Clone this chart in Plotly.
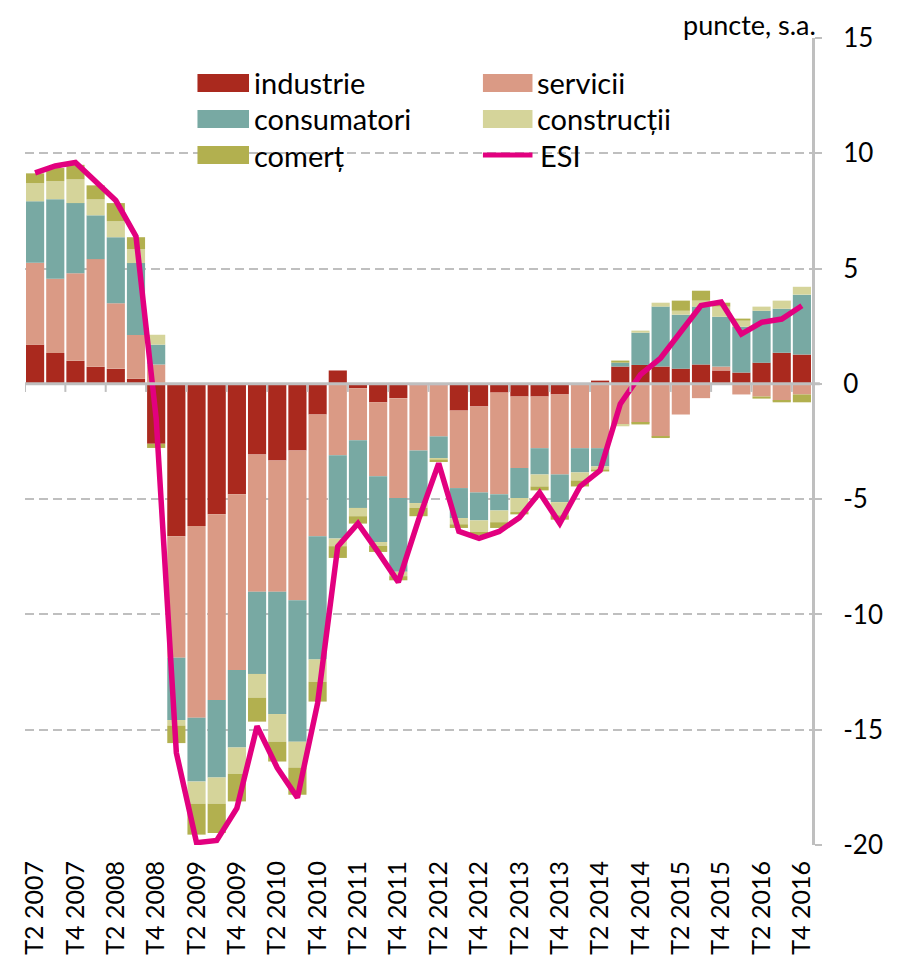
import plotly.graph_objects as go

quarters = [
    "T2 2007", "T3 2007", "T4 2007",
    "T1 2008", "T2 2008", "T3 2008", "T4 2008",
    "T1 2009", "T2 2009", "T3 2009", "T4 2009",
    "T1 2010", "T2 2010", "T3 2010", "T4 2010",
    "T1 2011", "T2 2011", "T3 2011", "T4 2011",
    "T1 2012", "T2 2012", "T3 2012", "T4 2012",
    "T1 2013", "T2 2013", "T3 2013", "T4 2013",
    "T1 2014", "T2 2014", "T3 2014", "T4 2014",
    "T1 2015", "T2 2015", "T3 2015", "T4 2015",
    "T1 2016", "T2 2016", "T3 2016", "T4 2016",
]

industrie = [1.70, 1.34, 1.00, 0.74, 0.65, 0.22, -2.60,
             -6.61, -6.16, -5.66, -4.79, -3.06, -3.32, -2.89, -1.33,
             0.58, -0.19, -0.80, -0.62, -0.07, -0.07, -1.16, -0.98,
             -0.38, -0.55, -0.55, -0.46, 0.00, 0.14, 0.75, 0.82,
             0.75, 0.66, 0.84, 0.58, 0.49, 0.92, 1.35, 1.27]
servicii = [3.55, 3.22, 3.80, 4.67, 2.85, 1.90, 0.84,
            -5.27, -8.32, -8.05, -7.62, -5.96, -5.70, -6.49, -5.28,
            -3.10, -2.26, -3.21, -4.33, -2.82, -2.21, -3.36, -3.73,
            -4.41, -3.10, -2.24, -3.47, -2.79, -2.79, -1.76, -1.68,
            -2.28, -1.33, -0.62, 0.17, -0.46, -0.55, -0.72, -0.46]
consumatori = [2.67, 3.45, 3.04, 1.90, 2.86, 3.12, 0.86,
               -2.70, -2.77, -3.36, -3.36, -3.56, -5.30, -6.14, -5.34,
               -3.61, -2.93, -2.85, -3.20, -2.28, -0.94, -1.30, -1.21,
               -0.70, -1.30, -1.14, -1.20, -1.05, -0.79, 0.17, 1.40,
               2.60, 2.34, 2.51, 2.16, 1.99, 2.25, 1.91, 2.60]
constructii = [0.78, 0.78, 1.03, 0.69, 0.69, 0.60, 0.43,
               -0.24, -0.96, -1.14, -1.14, -1.03, -1.20, -1.12, -0.97,
               -0.33, -0.36, -0.17, -0.19, -0.21, -0.07, -0.27, -0.50,
               -0.51, -0.61, -0.52, -0.57, -0.35, -0.13, -0.08, 0.09,
               0.17, 0.17, 0.26, 0.44, 0.26, 0.18, 0.35, 0.34]
comert = [0.43, 0.57, 0.63, 0.61, 0.79, 0.52, -0.18,
          -0.76, -1.34, -1.27, -1.20, -1.04, -0.86, -1.18, -0.86,
          -0.51, -0.32, -0.26, -0.18, -0.36, -0.10, -0.16, -0.15,
          -0.25, -0.10, -0.17, -0.19, -0.26, -0.09, 0.09, -0.08,
          -0.07, 0.44, 0.43, 0.17, 0.09, -0.09, -0.08, -0.34]
esi = [9.15, 9.45, 9.60, 8.80, 7.95, 6.40, -1.50,
       -16.00, -19.90, -19.80, -18.40, -14.85, -16.65, -17.95, -13.85,
       -7.05, -6.05, -7.30, -8.60, -5.90, -3.45, -6.40, -6.70,
       -6.40, -5.80, -4.72, -6.05, -4.45, -3.75, -0.87, 0.40,
       1.12, 2.23, 3.40, 3.55, 2.16, 2.67, 2.81, 3.39]

series_names = ["industrie", "servicii", "consumatori", "construcții", "comerț"]
series_values = [industrie, servicii, consumatori, constructii, comert]
series_colors = ["#AA291E", "#DA9A85", "#78A9A3", "#D5D49A", "#B2B04F"]
esi_color = "#E2007F"

label_quarters = quarters[0::2]
ytick_vals = [15, 10, 5, 0, -5, -10, -15, -20]
ytick_text = ["15", "10", "5", "0", "-5", "-10", "-15", "-20"]

FONT = "Lato"
W, H = 901, 973
PAGE_OFF = 8  # default body margin of the html page
PW, PH = 794, 807
ML, MT = 18 - PAGE_OFF, 38 - PAGE_OFF
MR, MB = W - ML - PW, H - MT - PH


def px_x(p):
    return (p - PAGE_OFF - ML) / PW


def px_y(p):
    return (MT + PH - (p - PAGE_OFF)) / PH


fig = go.Figure()
for name, vals, col in zip(series_names, series_values, series_colors):
    fig.add_trace(go.Bar(x=quarters, y=vals, name=name, marker=dict(color=col, line=dict(width=0)),
                         showlegend=False))
fig.add_trace(go.Scatter(x=quarters, y=esi, name="ESI", mode="lines",
                         line=dict(color=esi_color, width=5.5), showlegend=False))

shapes = []
shapes.append(dict(type="line", xref="paper", yref="y", x0=0, x1=1.01, y0=0, y1=0,
                   line=dict(color="#BFBFBF", width=3), layer="above"))
for i in range(0, len(quarters), 2):
    shapes.append(dict(type="line", xref="x", yref="y", x0=i - 0.5, x1=i - 0.5, y0=0, y1=-0.35,
                       line=dict(color="#BFBFBF", width=2), layer="above"))

annotations = []
legend_items = [
    ("industrie", "bar", series_colors[0], 192, 244, 83),
    ("servicii", "bar", series_colors[1], 480, 530, 83),
    ("consumatori", "bar", series_colors[2], 192, 244, 119),
    ("construcții", "bar", series_colors[3], 480, 530, 119),
    ("comerț", "bar", series_colors[4], 192, 244, 155),
    ("ESI", "line", esi_color, 477, 533, 155),
]
for text, kind, col, x0, x1, yc in legend_items:
    if kind == "bar":
        shapes.append(dict(type="rect", xref="paper", yref="paper",
                           x0=px_x(x0), x1=px_x(x1), y0=px_y(yc + 9), y1=px_y(yc - 9),
                           fillcolor=col, line=dict(width=0), layer="above"))
    else:
        shapes.append(dict(type="line", xref="paper", yref="paper",
                           x0=px_x(x0 + 3), x1=px_x(x1 - 3), y0=px_y(yc), y1=px_y(yc),
                           line=dict(color=col, width=5), layer="above"))
    annotations.append(dict(text=text, xref="paper", yref="paper", x=px_x(x1 + 3), y=px_y(yc),
                            xanchor="left", yanchor="middle", showarrow=False,
                            font=dict(family=FONT, size=29, color="#000000")))

annotations.append(dict(text="puncte, s.a.", xref="paper", yref="paper", x=px_x(818), y=px_y(25),
                        xanchor="right", yanchor="middle", showarrow=False,
                        font=dict(family=FONT, size=27, color="#000000")))

fig.update_layout(
    width=W, height=H,
    margin=dict(l=ML, r=MR, t=MT, b=MB),
    paper_bgcolor="white", plot_bgcolor="white",
    barmode="relative", bargap=0.1,
    shapes=shapes, annotations=annotations,
    showlegend=False,
    font=dict(family=FONT, color="#000000"),
)
fig.update_xaxes(
    type="category", categoryorder="array", categoryarray=quarters,
    range=[-0.5, len(quarters) - 0.5],
    tickmode="array", tickvals=label_quarters, ticktext=label_quarters,
    tickangle=-90, tickfont=dict(family=FONT, size=25, color="#000000"),
    ticks="", showgrid=False, showline=False, zeroline=False,
    ticklabelstandoff=10,
)
fig.update_yaxes(
    side="right", range=[-20, 15],
    tickmode="array", tickvals=ytick_vals, ticktext=ytick_text,
    tickfont=dict(family=FONT, size=26, color="#000000"),
    showgrid=True, gridcolor="#BFBFBF", gridwidth=2, griddash="9px,5px",
    zeroline=False, showline=True, linecolor="#BFBFBF", linewidth=3,
    ticks="outside", ticklen=7, tickcolor="#BFBFBF", tickwidth=2,
    ticklabelstandoff=16,
)

fig.write_html("out.html")
